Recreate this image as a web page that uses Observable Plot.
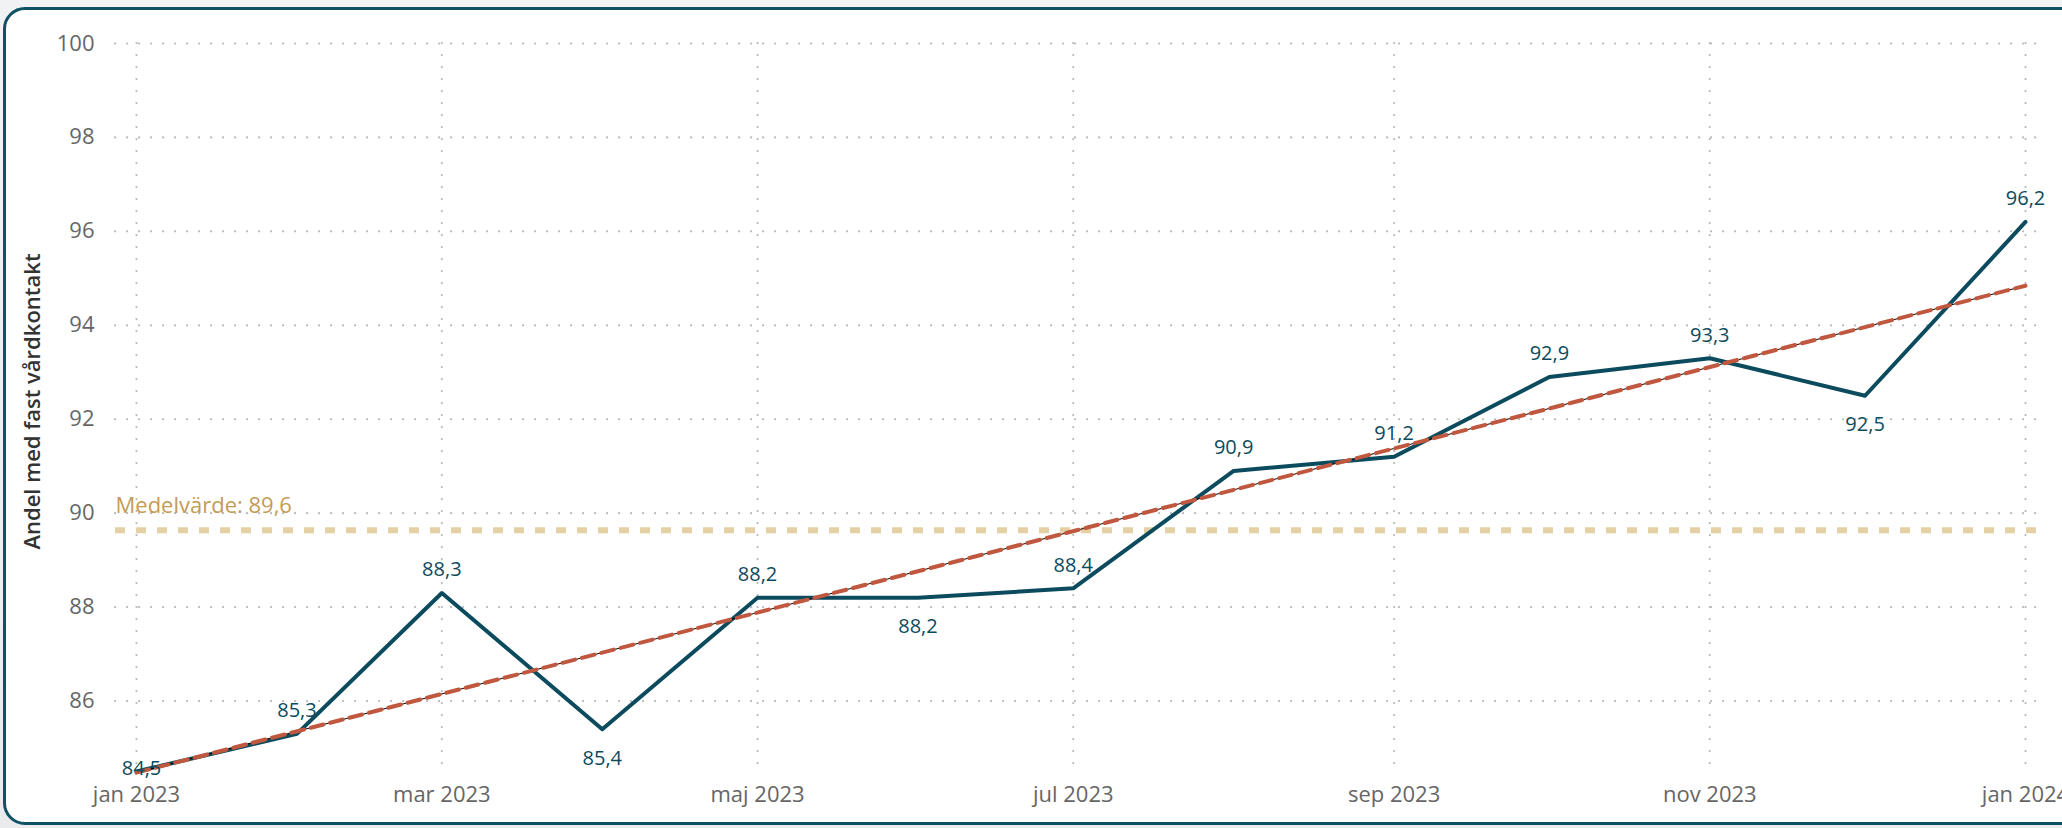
<!DOCTYPE html>
<html>
<head>
<meta charset="utf-8">
<script src="https://cdn.jsdelivr.net/npm/d3@7"></script>
<script src="https://cdn.jsdelivr.net/npm/@observablehq/plot@0.6"></script>
<style>
  html, body { margin: 0; padding: 0; width: 2062px; height: 828px; overflow: hidden; background: linear-gradient(#f0f2f3, #e9ebec); }
  #card { position: absolute; left: 3px; top: 7px; width: 2100px; height: 812px; border: 3px solid #0f5266; border-radius: 22px; background: #fff; }
  #chart { position: absolute; left: 0; top: 0; }
</style>
</head>
<body>
<div id="card"></div>
<div id="chart"></div>
<script>
// Data
const months = ["2023-01","2023-02","2023-03","2023-04","2023-05","2023-06","2023-07","2023-08","2023-09","2023-10","2023-11","2023-12","2024-01"];
const values = [84.5, 85.3, 88.3, 85.4, 88.2, 88.2, 88.4, 90.9, 91.2, 92.9, 93.3, 92.5, 96.2];
const labelPlacement = ["center","above","above","below","above","below","above","above","above","above","above","below","above"];
const tickMonths = ["2023-01","2023-03","2023-05","2023-07","2023-09","2023-11","2024-01"];
const tickLabels = ["jan 2023","mar 2023","maj 2023","jul 2023","sep 2023","nov 2023","jan 2024"];
const yTicks = [86, 88, 90, 92, 94, 96, 98, 100];
const yLabel = "Andel med fast vårdkontakt";
const meanLabelPrefix = "Medelvärde: ";

const parse = d3.timeParse("%Y-%m");
const data = months.map((m, i) => ({date: parse(m), value: values[i], pos: labelPlacement[i]}));
const tickDates = tickMonths.map(parse);
const tickLabelMap = new Map(tickDates.map((d, i) => [+d, tickLabels[i]]));
const fmt = v => d3.format(".1f")(v).replace(".", ",");
const meanValue = d3.mean(values);

const teal = "#0c4b5d";
const gridStyle = {stroke: "#b9b9b9", strokeOpacity: 1, strokeWidth: 2.2, strokeDasharray: "0.1,11.9", strokeLinecap: "round"};

const chart = Plot.plot({
  width: 2062,
  height: 828,
  marginTop: 43,
  marginBottom: 57,
  marginLeft: 115,
  marginRight: 25,
  style: {fontFamily: "'Open Sans', sans-serif", background: "transparent", overflow: "visible"},
  x: {type: "time", domain: [data[0].date, data[data.length - 1].date], insetLeft: 21, insetRight: 12},
  y: {domain: [84.5, 100]},
  marks: [
    Plot.gridY(yTicks, gridStyle),
    Plot.gridX(tickDates, gridStyle),
    Plot.axisY(yTicks, {tickSize: 0, tickPadding: 21, fontSize: 22, fill: "#666", label: null}),
    Plot.axisX(tickDates, {tickSize: 0, tickPadding: 15, fontSize: 22, fill: "#666", label: null, tickFormat: d => tickLabelMap.get(+d)}),
    Plot.text([yLabel], {frameAnchor: "left", textAnchor: "middle", rotate: -90, dx: -83, dy: -6, fontSize: 22, fontWeight: 600, fill: "#333"}),
    Plot.ruleY([meanValue], {stroke: "#e4d0a4", strokeWidth: 6, strokeDasharray: "10,11"}),
    Plot.text([meanValue], {y: d => d, frameAnchor: "left", textAnchor: "start", dy: -24, fontSize: 22, fill: "#c49b55", text: d => meanLabelPrefix + fmt(d)}),
    Plot.line(data, {x: "date", y: "value", stroke: teal, strokeWidth: 4}),
    Plot.linearRegressionY(data, {x: "date", y: "value", stroke: "#000", strokeWidth: 1, ci: 0}),
    Plot.linearRegressionY(data, {x: "date", y: "value", stroke: "#c0583f", strokeWidth: 4, strokeDasharray: "13,7", ci: 0}),
    Plot.text(data.filter(d => d.pos === "above"), {x: "date", y: "value", text: d => fmt(d.value), dy: -23, fontSize: 20, fill: teal}),
    Plot.text(data.filter(d => d.pos === "below"), {x: "date", y: "value", text: d => fmt(d.value), dy: 29, fontSize: 20, fill: teal}),
    Plot.text(data.filter(d => d.pos === "center"), {x: "date", y: "value", text: d => fmt(d.value), dx: 5, dy: -3, fontSize: 20, fill: teal})
  ]
});
document.getElementById("chart").appendChild(chart);
</script>
</body>
</html>
